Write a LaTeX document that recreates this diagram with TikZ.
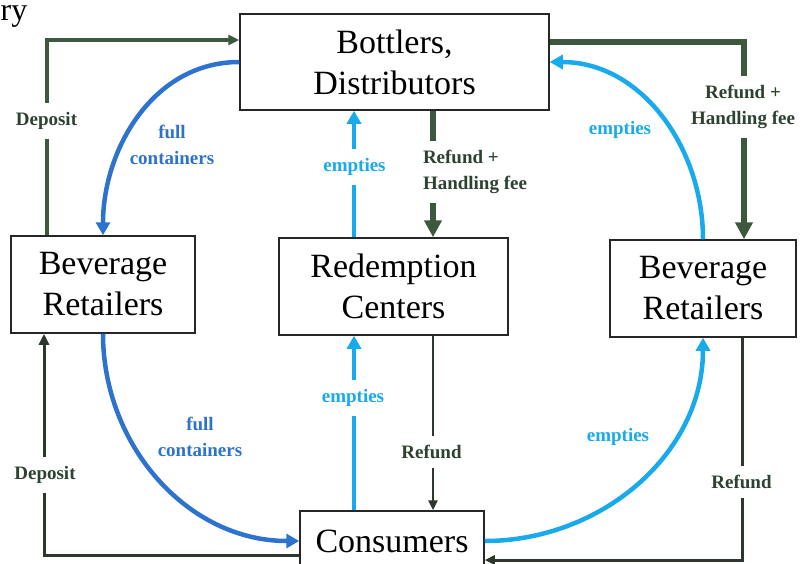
\documentclass[tikz,border=0pt]{standalone}
\usepackage{fontspec}
\setmainfont{Liberation Serif}
\usetikzlibrary{arrows.meta,positioning}

\definecolor{cashgreen}{RGB}{62,88,62}
\definecolor{cashdark}{RGB}{44,56,44}
\definecolor{labelgreen}{RGB}{46,66,50}
\definecolor{fullblue}{RGB}{45,115,205}
\definecolor{emptycyan}{RGB}{25,170,235}

\begin{document}
\begin{tikzpicture}[
  x=1pt, y=-1pt,
  >=Triangle,
  actor/.style={rectangle,draw=black!85,line width=1.5pt,align=center,inner sep=0pt,
    font=\fontsize{34}{41}\selectfont},
  lbl/.style={font=\bfseries\fontsize{19}{26}\selectfont,align=center,inner xsep=2pt,inner ysep=9pt},
  gap/.style={fill=white},
  cashlbl/.style={lbl,text=labelgreen},
  full/.style={->,draw=fullblue,line width=4.5pt,>={Triangle[length=13pt,width=14pt]}},
  empt/.style={->,draw=emptycyan,line width=4.5pt,>={Triangle[length=13pt,width=14pt]}},
  deposit/.style={->,draw=cashgreen,line width=3.4pt,>={Triangle[length=11pt,width=10pt]}},
  refund/.style={->,draw=cashdark,line width=2.6pt,>={Triangle[length=10pt,width=9pt]}},
  fee/.style={->,draw=cashgreen,line width=5.5pt,>={Triangle[length=17pt,width=17pt]}},
]
  \useasboundingbox (0,0) rectangle (803,563);
  \node[font=\fontsize{32}{32}\selectfont,anchor=base west,inner sep=0pt] (ry) at (0.5,20) {ry};

  \node[actor,minimum width=309pt,minimum height=96pt] (bott) at (394.5,62) {Bottlers,\\Distributors};
  \node[actor,minimum width=184pt,minimum height=97pt] (lret) at (103,284.5) {Beverage\\Retailers};
  \node[actor,minimum width=229pt,minimum height=97pt] (redc) at (393.5,286.5) {Redemption\\Centers};
  \node[actor,minimum width=186pt,minimum height=97pt] (rret) at (703,288.5) {Beverage\\Retailers};
  \node[actor,minimum width=184pt,minimum height=60pt] (cons) at (392,541) {Consumers};

  \coordinate (depT) at (47,40);
  \coordinate (depB) at (44,555);
  \coordinate (feeT) at (744,42);
  \coordinate (refB) at (742,560);
  \coordinate (colE) at (354,0);
  \coordinate (colR) at (433,0);

  \draw[full] (bott.west) to[out=180,in=90] (lret.north);
  \draw[full] (lret.south) to[out=-90,in=180] (cons.west);
  \draw[empt] (cons.east) to[out=0,in=-90] (rret.south);
  \draw[empt] (rret.north) to[out=90,in=0] (bott.east);
  \draw[empt] (redc.north -| colE) -- (bott.south -| colE);
  \draw[empt] (cons.north -| colE) -- (redc.south -| colE);

  \draw[deposit] (lret.north -| depT) |- (bott.west |- depT);
  \draw[deposit,draw=cashdark,line width=3pt] (cons.west |- depB) -| (lret.south -| depB);
  \draw[fee] (bott.east |- feeT) -| (rret.north -| feeT);
  \draw[fee,line width=6pt] (bott.south -| colR) -- (redc.north -| colR);
  \draw[refund] (redc.south -| colR) -- (cons.north -| colR);
  \draw[refund,line width=3pt] (rret.south -| refB) |- (cons.east |- refB);

  \node[cashlbl,gap] (depTl) at (46.5,121) {Deposit};
  \node[cashlbl,gap] (depBl) at (45,475) {Deposit};
  \node[cashlbl,gap,align=left] (feeMl) at (475,172) {Refund +\\Handling fee};
  \node[cashlbl,gap] (feeRl) at (743,107) {Refund +\\Handling fee};
  \node[cashlbl,gap] (refMl) at (431.5,452) {Refund};
  \node[cashlbl,gap] (refRl) at (741.5,482) {Refund};
  \node[lbl,text=fullblue] (fullTl) at (172,145) {full\\containers};
  \node[lbl,text=fullblue] (fullBl) at (200,437) {full\\containers};
  \node[lbl,gap,text=emptycyan] (empTl) at (354.5,167) {empties};
  \node[lbl,gap,text=emptycyan] (empBl) at (353,398) {empties};
  \node[lbl,text=emptycyan] (empTRl) at (620,130) {empties};
  \node[lbl,text=emptycyan] (empBRl) at (618,437) {empties};
\end{tikzpicture}
\end{document}
